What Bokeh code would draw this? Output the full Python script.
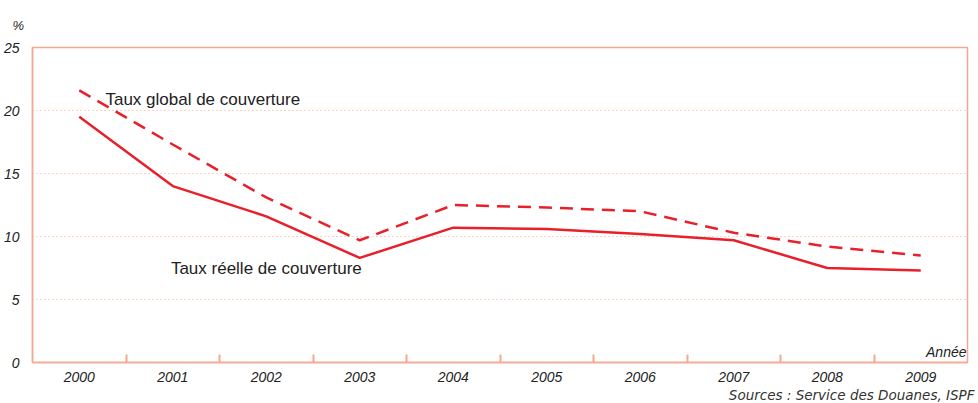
from bokeh.plotting import figure
from bokeh.models import FixedTicker, Label, ColumnDataSource, Range1d, Title
from bokeh.embed import file_html
from bokeh.resources import INLINE

years = [2000, 2001, 2002, 2003, 2004, 2005, 2006, 2007, 2008, 2009]
taux_global = [21.6, 17.3, 13.1, 9.7, 12.5, 12.3, 12.0, 10.3, 9.2, 8.5]
taux_reel = [19.5, 14.0, 11.6, 8.3, 10.7, 10.6, 10.2, 9.7, 7.5, 7.3]
y_ticks = [0, 5, 10, 15, 20, 25]
boundaries = [y + 0.5 for y in years[:-1]]

RED = "#e8202a"
SALMON = "#f3a98f"
TXT = "#222222"

p = figure(width=976, height=402, output_backend="svg", toolbar_location=None,
           x_range=Range1d(years[0] - 0.5, years[-1] + 0.5),
           y_range=Range1d(0, 25),
           min_border_left=24, min_border_right=9, min_border_top=43,
           min_border_bottom=24)
p.outline_line_color = SALMON
p.outline_line_width = 1.5
p.background_fill_color = "white"
p.border_fill_color = "white"

src = ColumnDataSource(dict(x=years, g=taux_global, r=taux_reel))
p.line("x", "g", source=src, line_color=RED, line_width=2.5, line_dash="13 8")
p.line("x", "r", source=src, line_color=RED, line_width=2.5)

xa = p.xaxis[0]
xa.ticker = FixedTicker(ticks=years, minor_ticks=boundaries)
xa.major_tick_line_color = None
xa.minor_tick_line_color = SALMON
xa.minor_tick_line_width = 2
xa.minor_tick_in = 8
xa.minor_tick_out = 0
xa.axis_line_color = SALMON
xa.axis_line_width = 1.5
xa.major_label_text_font = "Liberation Sans"
xa.major_label_text_font_style = "italic"
xa.major_label_text_font_size = "14px"
xa.major_label_text_color = TXT
xa.major_label_standoff = 3

ya = p.yaxis[0]
ya.ticker = FixedTicker(ticks=y_ticks)
ya.major_tick_line_color = None
ya.minor_tick_line_color = None
ya.axis_line_color = SALMON
ya.axis_line_width = 1.5
ya.major_label_text_font = "Liberation Sans"
ya.major_label_text_font_style = "italic"
ya.major_label_text_font_size = "14px"
ya.major_label_text_color = TXT
ya.major_label_standoff = 7

p.xgrid.grid_line_color = None
p.ygrid.grid_line_color = SALMON
p.ygrid.grid_line_dash = "1 3"
p.ygrid.grid_line_width = 1

p.add_layout(Title(text="%", align="left", text_font="Liberation Sans",
                   text_font_style="italic", text_font_size="13px",
                   text_color=TXT, standoff=30, offset=-20), "above")
p.add_layout(Title(text="Sources : Service des Douanes, ISPF", align="right",
                   text_font="DejaVu Sans", text_font_style="italic",
                   text_font_size="13.5px", text_color="#333333",
                   standoff=0, offset=-7), "below")

p.add_layout(Label(x=2000.28, y=20.9, text="Taux global de couverture",
                   text_font="Liberation Sans", text_font_size="17px", text_color=TXT,
                   text_baseline="middle", text_align="left"))
p.add_layout(Label(x=2000.98, y=7.45, text="Taux réelle de couverture",
                   text_font="Liberation Sans", text_font_size="17px", text_color=TXT,
                   text_baseline="middle", text_align="left"))
p.add_layout(Label(x=years[-1] + 0.5, y=0, x_offset=-1, y_offset=3, text="Année",
                   text_font="Liberation Sans", text_font_style="italic",
                   text_font_size="14px", text_color=TXT,
                   text_baseline="bottom", text_align="right"))

open("out.html", "w").write(file_html(p, INLINE))
